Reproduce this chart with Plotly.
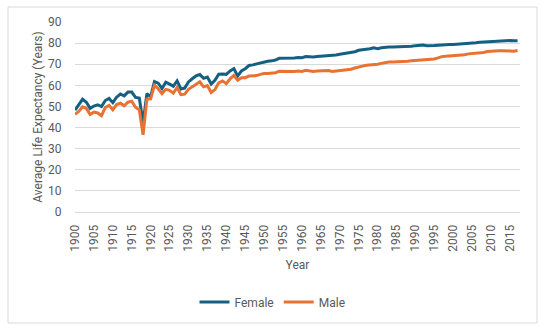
import plotly.graph_objects as go

years = list(range(1900, 2018))
female = [48.3, 50.6, 53.4, 52.0, 49.1, 50.2, 50.8, 49.9, 52.8, 53.8,
          51.8, 54.4, 55.9, 55.0, 56.8, 56.8, 54.3, 54.0, 42.2, 56.0,
          54.6, 61.8, 61.0, 58.5, 61.5, 60.6, 59.6, 62.1, 58.3, 58.7,
          61.6, 63.1, 64.5, 65.1, 63.3, 63.9, 60.6, 62.4, 65.3, 65.4,
          65.2, 66.8, 67.9, 64.4, 66.8, 67.9, 69.4, 69.7, 70.2, 70.7,
          71.1, 71.4, 71.6, 72.0, 72.8, 72.8, 72.9, 72.7, 72.9, 73.2,
          73.1, 73.6, 73.4, 73.4, 73.7, 73.8, 73.9, 74.3, 74.1, 74.4,
          74.7, 75.0, 75.1, 75.3, 75.9, 76.6, 76.8, 77.2, 77.3, 77.8,
          77.4, 77.8, 78.1, 78.1, 78.2, 78.2, 78.2, 78.3, 78.3, 78.5,
          78.8, 78.9, 79.1, 78.8, 79.0, 78.9, 79.0, 79.2, 79.4, 79.4,
          79.3, 79.4, 79.5, 79.6, 79.9, 79.9, 80.2, 80.4, 80.5, 80.9,
          81.0, 81.1, 81.2, 81.2, 81.3, 81.2, 81.1, 81.1]
male = [46.3, 47.6, 49.8, 49.1, 46.2, 47.3, 46.9, 45.6, 49.5, 50.5,
        48.4, 50.9, 51.5, 50.3, 52.0, 52.5, 49.6, 48.4, 36.6, 53.5,
        53.6, 60.0, 58.4, 56.1, 58.1, 57.6, 56.3, 59.0, 55.6, 55.8,
        58.1, 59.4, 60.5, 61.7, 59.3, 59.9, 56.6, 58.0, 61.2, 62.1,
        60.8, 63.1, 64.7, 62.4, 63.6, 63.6, 64.4, 64.4, 64.6, 65.2,
        65.6, 65.6, 65.8, 66.0, 66.7, 66.7, 66.7, 66.4, 66.6, 66.8,
        66.6, 67.1, 66.9, 66.6, 66.8, 66.8, 66.7, 67.0, 66.6, 66.8,
        67.1, 67.4, 67.4, 67.6, 68.2, 68.8, 69.1, 69.5, 69.6, 70.0,
        70.0, 70.4, 70.8, 71.0, 71.1, 71.1, 71.2, 71.4, 71.4, 71.7,
        71.8, 72.0, 72.3, 72.2, 72.4, 72.5, 73.0, 73.6, 73.8, 73.9,
        74.1, 74.3, 74.4, 74.5, 74.9, 75.0, 75.2, 75.5, 75.6, 76.0,
        76.2, 76.3, 76.4, 76.4, 76.5, 76.3, 76.2, 76.5]
x_ticks = list(range(1900, 2016, 5))
y_ticks = list(range(0, 91, 10))

FONT = "Roboto"
TXT = "#595959"
GRID = "#D9D9D9"

fig = go.Figure()
fig.add_trace(go.Scatter(x=years, y=female, mode="lines", name="Female",
                         line=dict(color="#156082", width=3)))
fig.add_trace(go.Scatter(x=years, y=male, mode="lines", name="Male",
                         line=dict(color="#E97132", width=3)))

fig.update_layout(
    width=545, height=332,
    margin=dict(l=75, r=25, t=22, b=120),
    paper_bgcolor="white", plot_bgcolor="white",
    font=dict(family=FONT, size=12, color=TXT),
    showlegend=True,
    legend=dict(orientation="h", xref="container", yref="container",
                x=0.5, xanchor="center", y=1 - 302 / 332, yanchor="middle",
                font=dict(family=FONT, size=12, color=TXT),
                itemwidth=30, bgcolor="rgba(0,0,0,0)"),
    shapes=[dict(type="rect", xref="paper", yref="paper",
                 x0=(8 - 75) / 445, x1=(537 - 75) / 445,
                 y0=(212 - 323) / 190, y1=(212 - 7) / 190,
                 line=dict(color=GRID, width=1), layer="below")],
)
fig.update_xaxes(range=[1900, 2017.65], tickmode="array", tickvals=x_ticks,
                 ticktext=[str(v) for v in x_ticks], tickangle=-90,
                 showgrid=False, zeroline=False, showline=False,
                 ticks="outside", ticklen=7, tickcolor="rgba(0,0,0,0)",
                 title=dict(text="Year", standoff=9,
                            font=dict(family=FONT, size=12, color=TXT)))
fig.update_yaxes(range=[0, 90], tickmode="array", tickvals=y_ticks,
                 showgrid=True, gridcolor=GRID, gridwidth=1,
                 zeroline=True, zerolinecolor=GRID, zerolinewidth=1,
                 showline=False, ticks="outside", ticklen=10,
                 tickcolor="rgba(0,0,0,0)",
                 title=dict(text="Average Life Expectancy (Years)", standoff=2,
                            font=dict(family=FONT, size=12, color=TXT)))

fig.write_html("out.html")
